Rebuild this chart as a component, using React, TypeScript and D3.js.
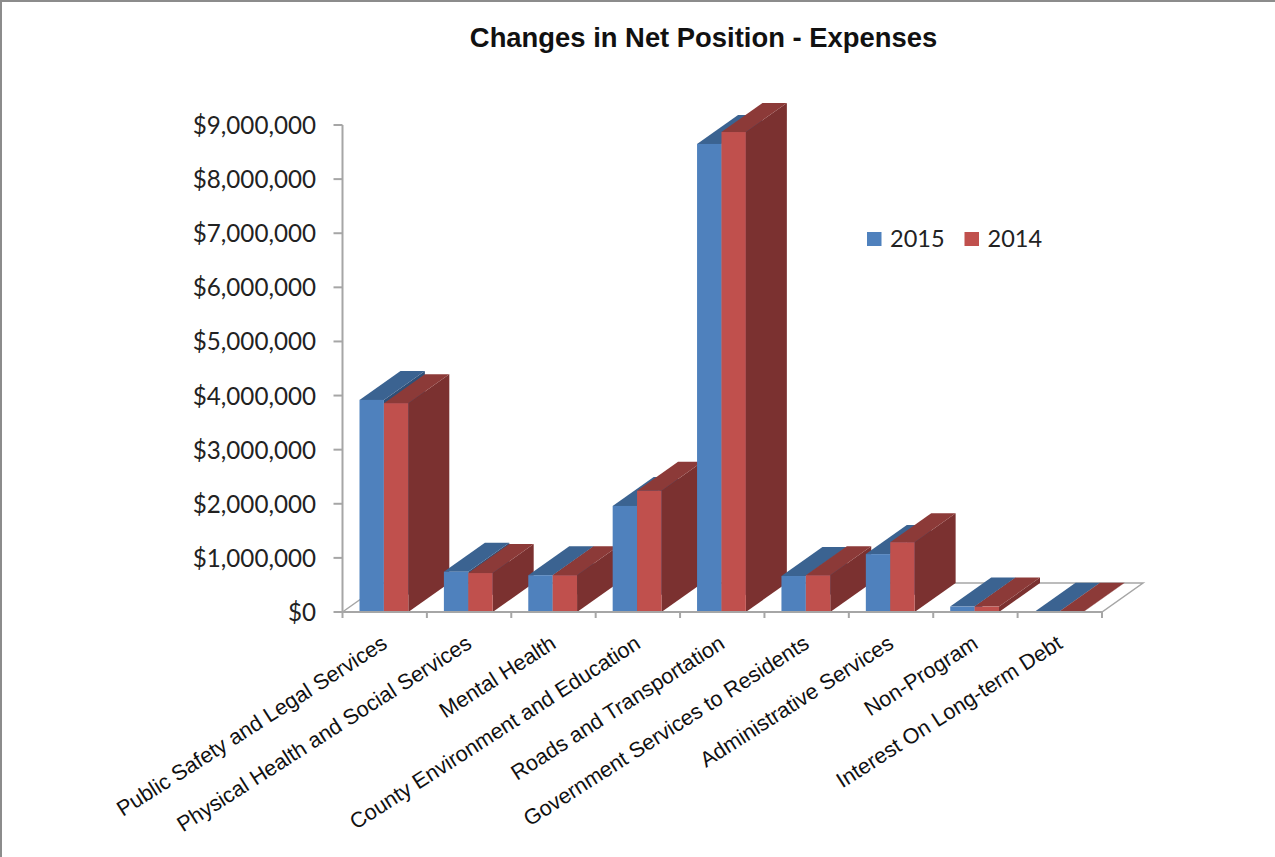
import React from "react";
import * as d3 from "d3";

// Expense categories, with one value per fiscal year, in dollars.
const categories = [
  "Public Safety and Legal Services",
  "Physical Health and Social Services",
  "Mental Health",
  "County Environment and Education",
  "Roads and Transportation",
  "Government Services to Residents",
  "Administrative Services",
  "Non-Program",
  "Interest On Long-term Debt",
];
const values2015 = [3920000, 745000, 680000, 1960000, 8650000, 665000, 1070000, 100000, 5000];
const values2014 = [3860000, 720000, 680000, 2240000, 8870000, 680000, 1290000, 100000, 5000];
const yTicks = [0, 1000000, 2000000, 3000000, 4000000, 5000000, 6000000, 7000000, 8000000, 9000000];

const WIDTH = 1275;
const HEIGHT = 857;
const DEPTH_X = 41;
const DEPTH_Y = -29;

const x = d3.scaleBand<string>().domain(categories).range([342.5, 1102]).paddingInner(0).paddingOuter(0);
const y = d3.scaleLinear().domain([0, 9000000]).range([612, 125]);
const money = d3.format("$,.0f");

const series = [
  { name: "2015", values: values2015, front: "#4F81BD", top: "#3B6391", side: "#2F5078" },
  { name: "2014", values: values2014, front: "#C0504D", top: "#8C3A38", side: "#7B3130" },
];

const BAR_W = 24.4;
const BAR_OFFSET = 17;

const pts = (p: [number, number][]) => p.map((d) => d.join(",")).join(" ");

function Column({ x0, value, s }: { x0: number; value: number; s: (typeof series)[number] }) {
  const x1 = x0 + BAR_W;
  const yTop = y(value);
  const yBase = y(0);
  return (
    <g>
      <polygon
        points={pts([[x1, yTop], [x1 + DEPTH_X, yTop + DEPTH_Y], [x1 + DEPTH_X, yBase + DEPTH_Y], [x1, yBase]])}
        fill={s.side}
      />
      <polygon
        points={pts([[x0, yTop], [x0 + DEPTH_X, yTop + DEPTH_Y], [x1 + DEPTH_X, yTop + DEPTH_Y], [x1, yTop]])}
        fill={s.top}
      />
      <rect x={x0} y={yTop} width={BAR_W} height={yBase - yTop} fill={s.front} />
    </g>
  );
}

export default function App() {
  const y0 = y(0);
  const [xl, xr] = x.range();
  const axisColor = "#A6A6A6";
  const edges = [...categories.map((c) => x(c) as number), xr];
  return (
    <svg
      width={WIDTH}
      height={HEIGHT}
      viewBox={`0 0 ${WIDTH} ${HEIGHT}`}
      style={{ position: "absolute", left: 0, top: 0, background: "#fff" }}
    >
      {/* frame along the top and left of the chart area */}
      <path d={`M1,${HEIGHT} V1 H${WIDTH}`} fill="none" stroke="#8C8C8C" strokeWidth={2} />

      <text
        x={703.5}
        y={47}
        textAnchor="middle"
        fontFamily="Liberation Sans"
        fontWeight="bold"
        fontSize={27.4}
        fill="#111"
      >
        Changes in Net Position - Expenses
      </text>

      {/* floor of the 3-D plot */}
      <polygon
        points={pts([[xl, y0], [xl + DEPTH_X, y0 + DEPTH_Y], [xr + DEPTH_X, y0 + DEPTH_Y], [xr, y0]])}
        fill="#fff"
        stroke={axisColor}
        strokeWidth={1.5}
      />

      {/* columns, painted left to right so nearer faces overlap */}
      {categories.map((c, i) =>
        series.map((s, k) => (
          <Column key={c + s.name} x0={(x(c) as number) + BAR_OFFSET + k * BAR_W} value={s.values[i]} s={s} />
        )),
      )}

      {/* axes */}
      <line x1={xl} x2={xl} y1={y(9000000)} y2={y0} stroke={axisColor} strokeWidth={2} />
      <line x1={xl} x2={xr} y1={y0} y2={y0} stroke={axisColor} strokeWidth={2} />
      {yTicks.map((t) => (
        <g key={t}>
          <line x1={xl - 9} x2={xl} y1={y(t)} y2={y(t)} stroke={axisColor} strokeWidth={2} />
          <text x={316} y={y(t) + 9} textAnchor="end" fontFamily="Lato" fontSize={24.2} fill="#222">
            {money(t)}
          </text>
        </g>
      ))}
      {edges.map((e, i) => (
        <line key={i} x1={e} x2={e} y1={y0} y2={y0 + 6} stroke={axisColor} strokeWidth={2} />
      ))}

      {/* rotated category labels */}
      {categories.map((c) => {
        const cx = (x(c) as number) + x.bandwidth() / 2 + 4;
        return (
          <text
            key={c}
            transform={`translate(${cx},${y0 + 35}) rotate(-32.6)`}
            textAnchor="end"
            fontFamily="Liberation Sans"
            fontSize={21.6}
            fill="#111"
          >
            {c}
          </text>
        );
      })}

      {/* legend */}
      {series.map((s, i) => {
        const lx = 867 + i * 97.5;
        return (
          <g key={s.name}>
            <rect x={lx} y={232} width={14.5} height={14} fill={s.front} />
            <text x={lx + 23} y={247} fontFamily="Lato" fontSize={23.5} fill="#222">
              {s.name}
            </text>
          </g>
        );
      })}
    </svg>
  );
}
